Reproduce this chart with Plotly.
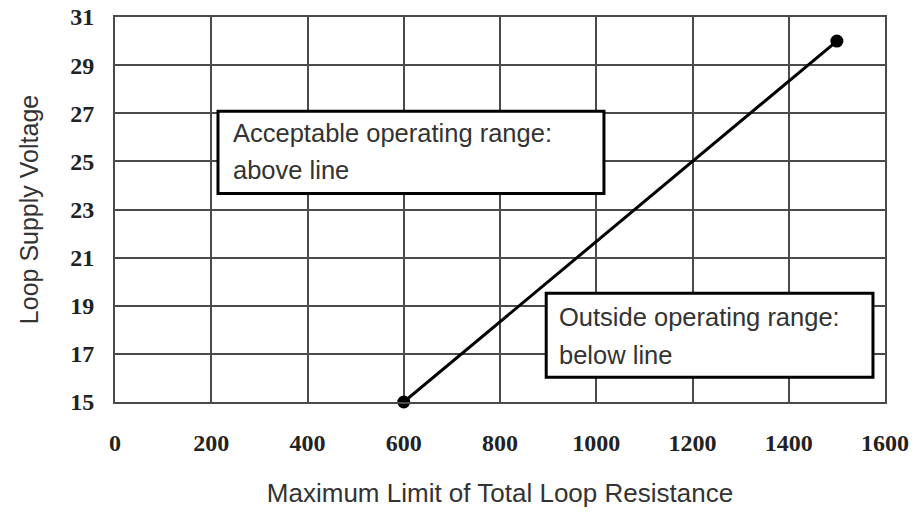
import plotly.graph_objects as go

# Data
resistance = [600, 1500]
voltage = [15, 30]
x_ticks = [0, 200, 400, 600, 800, 1000, 1200, 1400, 1600]
y_ticks = [15, 17, 19, 21, 23, 25, 27, 29, 31]
note_above = ["Acceptable operating range:", "above line"]
note_below = ["Outside operating range:", "below line"]

TXT = "#333333"
GRID = "#4a4a4a"
SANS = "Liberation Sans, Arial, sans-serif"
SERIF = "Liberation Serif, Times New Roman, serif"

fig = go.Figure()
fig.add_trace(go.Scatter(
    x=resistance, y=voltage, mode="lines+markers",
    line=dict(color="black", width=3),
    marker=dict(color="black", size=13),
    cliponaxis=False, showlegend=False, hoverinfo="x+y",
))

# Annotation boxes
boxes = [
    dict(x0=214, x1=1016, y0=23.67, y1=27.08, tx=241, ty=[26.2, 24.63], lines=note_above),
    dict(x0=896, x1=1575, y0=16.03, y1=19.52, tx=918, ty=[18.54, 16.95], lines=note_below),
]
for b in boxes:
    fig.add_shape(type="rect", xref="x", yref="y", x0=b["x0"], x1=b["x1"],
                  y0=b["y0"], y1=b["y1"], line=dict(color="black", width=3),
                  fillcolor="white", layer="above")
    for t, yy in zip(b["lines"], b["ty"]):
        fig.add_annotation(x=b["tx"], y=yy, xref="x", yref="y", text=t,
                           showarrow=False, xanchor="left", yanchor="middle",
                           font=dict(family=SANS, size=25.5, color=TXT))

fig.update_layout(
    width=915, height=513,
    margin=dict(l=115, r=30, t=17, b=111),
    paper_bgcolor="white", plot_bgcolor="white",
    xaxis=dict(
        range=[0, 1600], tickvals=x_ticks, ticktext=[str(v) for v in x_ticks],
        showgrid=True, gridcolor=GRID, gridwidth=2,
        showline=True, linecolor=GRID, linewidth=2, mirror=True,
        zeroline=False, ticks="", ticklabelstandoff=18, automargin=False,
        ticklabeloverflow="allow",
        tickfont=dict(family=SERIF, size=24, color="#222222", weight="bold"),
        title=dict(text="Maximum Limit of Total Loop Resistance", standoff=29,
                   font=dict(family=SANS, size=26, color=TXT)),
    ),
    yaxis=dict(
        range=[15, 31], tickvals=y_ticks, ticktext=[str(v) for v in y_ticks],
        showgrid=True, gridcolor=GRID, gridwidth=2,
        showline=True, linecolor=GRID, linewidth=2, mirror=True,
        zeroline=False, ticks="", ticklabelstandoff=14, automargin=False,
        ticklabeloverflow="allow",
        tickfont=dict(family=SERIF, size=24, color="#222222", weight="bold"),
        title=dict(text="Loop Supply Voltage", standoff=24,
                   font=dict(family=SANS, size=25, color=TXT)),
    ),
)

# remove the default 8px page margin so the figure fills the window exactly
fig.write_html("out.html",
               config={"displayModeBar": False},
               post_script="document.body.style.margin='0';document.body.style.overflow='hidden';")
